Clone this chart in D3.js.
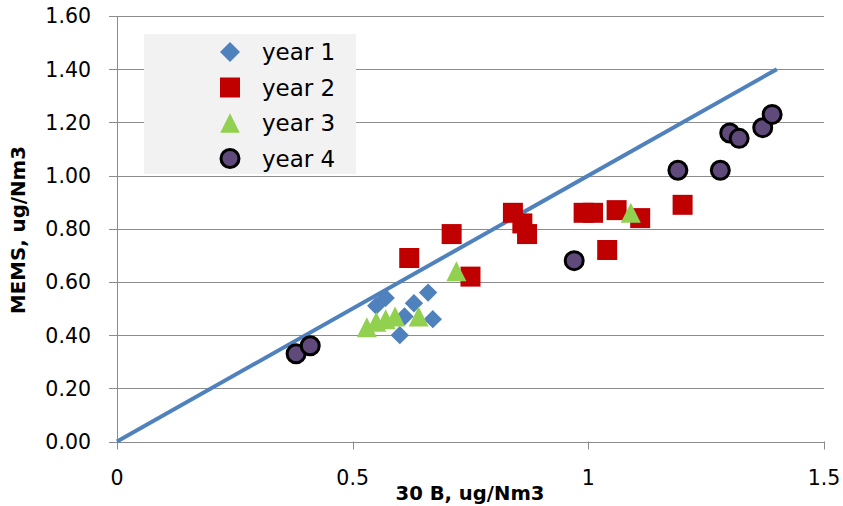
<!DOCTYPE html>
<html>
<head>
<meta charset="utf-8">
<script src="https://cdn.jsdelivr.net/npm/d3@7"></script>
<style>
  body { margin: 0; background: #fff; }
  svg { display: block; font-family: "DejaVu Sans", sans-serif; }
</style>
</head>
<body>
<svg id="canvas" width="843" height="506"></svg>
<script>
// values
let seriesNames = ["year 1", "year 2", "year 3", "year 4"]
let year1 = [[0.55,0.51],[0.57,0.54],[0.63,0.52],[0.66,0.56],[0.67,0.46],[0.60,0.40],[0.61,0.47]]
let year2 = [[0.62,0.69],[0.71,0.78],[0.75,0.62],[0.84,0.86],[0.86,0.82],[0.87,0.78],[0.99,0.86],[1.01,0.86],[1.04,0.72],[1.06,0.87],[1.11,0.84],[1.20,0.89]]
let year3 = [[0.53,0.43],[0.55,0.45],[0.57,0.46],[0.59,0.47],[0.64,0.47],[0.72,0.64],[1.09,0.86]]
let year4 = [[0.38,0.33],[0.41,0.36],[0.97,0.68],[1.19,1.02],[1.28,1.02],[1.30,1.16],[1.32,1.14],[1.37,1.18],[1.39,1.23]]
let lineEnds = [[0,0],[1.4,1.4]]
let xTicks = [0, 0.5, 1, 1.5]
let yTicks = [0, 0.2, 0.4, 0.6, 0.8, 1.0, 1.2, 1.4, 1.6]

let canvas = d3.select("#canvas")

let x = d3.scaleLinear().domain([0, 1.5]).range([117, 824])
let y = d3.scaleLinear().domain([0, 1.6]).range([441.5, 16])

// custom triangle, a bit taller than equilateral like excel's
let tri = {
    draw(ctx, size){
        let w = Math.sqrt(size)
        ctx.moveTo(0, -w/2)
        ctx.lineTo(w/2, w/2)
        ctx.lineTo(-w/2, w/2)
        ctx.closePath()
    }
}

let styles = [
    {data: year1, shape: d3.symbolSquare, size: 169, rot: 45, fill: "#4F81BD", stroke: "none", sw: 0, lsize: 200},
    {data: year2, shape: d3.symbolSquare, size: 400, rot: 0, fill: "#C00000", stroke: "none", sw: 0, lsize: 400},
    {data: year3, shape: tri, size: 400, rot: 0, fill: "#92D050", stroke: "none", sw: 0, lsize: 380},
    {data: year4, shape: d3.symbolCircle, size: Math.PI*81, rot: 0, fill: "#604A7B", stroke: "#000", sw: 3, lsize: Math.PI*81}
]

// grid lines
canvas.append("g")
    .selectAll("line")
    .data(yTicks)
    .enter()
    .append("line")
    .attr("x1", 109)
    .attr("x2", 824)
    .attr("y1", d => Math.round(y(d)) + 0.5)
    .attr("y2", d => Math.round(y(d)) + 0.5)
    .attr("stroke", "#8c8c8c")
    .attr("stroke-width", 1)

// y axis line
canvas.append("line")
    .attr("x1", 117.5).attr("x2", 117.5)
    .attr("y1", y(1.6)).attr("y2", y(0))
    .attr("stroke", "#8c8c8c")

// x axis ticks
canvas.append("g")
    .selectAll("line")
    .data(xTicks)
    .enter()
    .append("line")
    .attr("x1", d => Math.round(x(d)) + 0.5)
    .attr("x2", d => Math.round(x(d)) + 0.5)
    .attr("y1", y(0))
    .attr("y2", y(0) + 8)
    .attr("stroke", "#8c8c8c")

// tick labels
canvas.append("g")
    .selectAll("text")
    .data(yTicks)
    .enter()
    .append("text")
    .attr("x", 91)
    .attr("y", d => y(d))
    .attr("dy", "0.36em")
    .attr("text-anchor", "end")
    .attr("font-size", 20.5)
    .attr("fill", "#000")
    .text(d => d3.format(".2f")(d))

canvas.append("g")
    .selectAll("text")
    .data(xTicks)
    .enter()
    .append("text")
    .attr("x", d => x(d))
    .attr("y", 485)
    .attr("text-anchor", "middle")
    .attr("font-size", 20.5)
    .attr("fill", "#000")
    .text(d => d)

// axis titles
canvas.append("text")
    .attr("x", 470)
    .attr("y", 500)
    .attr("text-anchor", "middle")
    .attr("font-size", 19.6)
    .attr("font-weight", "bold")
    .text("30 B, ug/Nm3")

canvas.append("text")
    .attr("transform", "translate(25,230) rotate(-90)")
    .attr("text-anchor", "middle")
    .attr("font-size", 19.8)
    .attr("font-weight", "bold")
    .text("MEMS, ug/Nm3")

// y = x line
canvas.append("path")
    .datum(lineEnds)
    .attr("d", d3.line().x(d => x(d[0])).y(d => y(d[1])))
    .attr("stroke", "#4F81BD")
    .attr("stroke-width", 4)
    .attr("fill", "none")

// points
styles.forEach(s => {
    canvas.append("g")
        .selectAll("path")
        .data(s.data)
        .enter()
        .append("path")
        .attr("transform", d => "translate(" + x(d[0]) + "," + y(d[1]) + ") rotate(" + s.rot + ")")
        .attr("d", d3.symbol().type(s.shape).size(s.size))
        .attr("fill", s.fill)
        .attr("stroke", s.stroke)
        .attr("stroke-width", s.sw)
})

// legend
let legend = canvas.append("g")
legend.append("rect")
    .attr("x", 144).attr("y", 34)
    .attr("width", 212).attr("height", 140)
    .attr("fill", "#f2f2f2")

let rows = legend.selectAll("g.row")
    .data(styles)
    .enter()
    .append("g")
    .attr("class", "row")
    .attr("transform", (s, i) => "translate(230," + (52 + i*35.5) + ")")

rows.append("path")
    .attr("transform", s => "rotate(" + s.rot + ")")
    .attr("d", s => d3.symbol().type(s.shape).size(s.lsize)())
    .attr("fill", s => s.fill)
    .attr("stroke", s => s.stroke)
    .attr("stroke-width", s => s.sw)

rows.append("text")
    .attr("x", 32)
    .attr("dy", "0.36em")
    .attr("font-size", 23)
    .text((s, i) => seriesNames[i])
</script>
</body>
</html>
